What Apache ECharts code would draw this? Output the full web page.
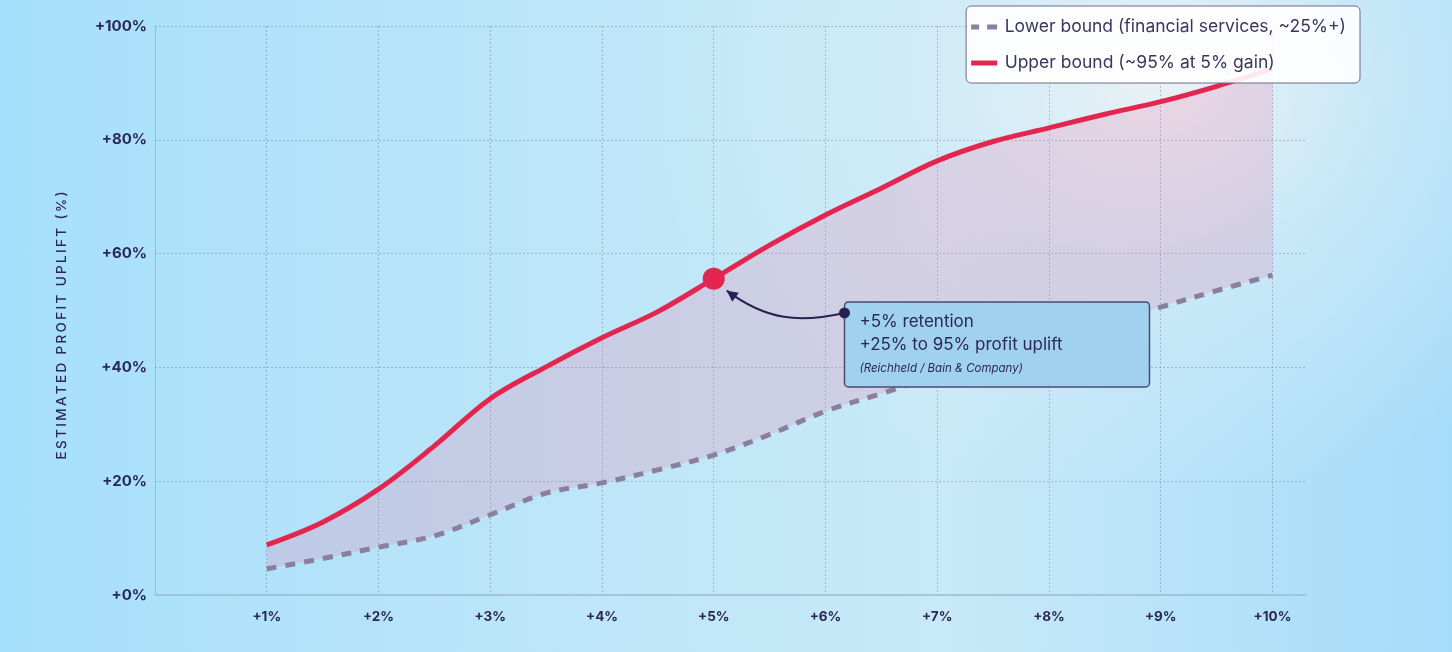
<!DOCTYPE html>
<html>
<head>
<meta charset="utf-8">
<script src="https://cdn.jsdelivr.net/npm/echarts@6/dist/echarts.min.js"></script>
<style>
  html, body { margin: 0; padding: 0; }
  body {
    width: 1452px; height: 652px; overflow: hidden;
    background:
      radial-gradient(ellipse 520px 420px at 80% 12%, rgba(236,242,245,0.95) 0%, rgba(214,237,247,0.6) 45%, rgba(190,230,250,0) 100%),
      linear-gradient(90deg, #a6dffb 0%, #bde6f8 40%, #c8e9f7 65%, #a5dcf9 100%);
  }
  #chart { width: 1452px; height: 652px; }
</style>
</head>
<body>
<div id="chart"></div>
<script>
// Retention gain (%) and the estimated profit uplift band
const retention  = [1, 1.5, 2, 2.5, 3, 3.5, 4, 4.5, 5, 5.5, 6, 6.5, 7, 7.5, 8, 8.5, 9, 9.5, 10];
const upperBound = [8.8, 12.8, 18.6, 26.2, 34.5, 40.1, 45.2, 49.8, 55.6, 61.5, 66.8, 71.5, 76.3, 79.7, 82.1, 84.5, 86.7, 89.4, 92.5];
const lowerBound = [4.6, 6.4, 8.4, 10.4, 14.1, 17.9, 19.7, 22.0, 24.6, 28.2, 32.3, 35.4, 38.7, 41.8, 44.8, 47.8, 50.6, 53.5, 56.2];
const xTicks = [1, 2, 3, 4, 5, 6, 7, 8, 9, 10];
const yTicks = [0, 20, 40, 60, 80, 100];

const lowerName = 'Lower bound (financial services, ~25%+)';
const upperName = 'Upper bound (~95% at 5% gain)';
const highlightX = 5;
const highlightY = upperBound[retention.indexOf(highlightX)];
const noteAnchor = [6.17, 51.5];
const noteLines = ['+5% retention', '+25% to 95% profit uplift', '(Reichheld / Bain & Company)'];
const xAxisTitle = 'CUSTOMER RETENTION RATE INCREASE (%)';
const yAxisTitle = 'ESTIMATED PROFIT UPLIFT (%)';

const FONT = 'Inter, "Open Sans", sans-serif';
const INK = '#2c2855';
const RED = '#e3264f';
const GREY = '#8a7f9e';

// spread capitals apart with thin spaces
const spaced = (s) => s.split('').join('\u2009');

const pairs = (ys) => retention.map((x, i) => [x, ys[i]]);
// value first so the stack runs along the y dimension
const stackPairs = (ys) => retention.map((x, i) => [ys[i], x]);
const bandHeight = upperBound.map((u, i) => u - lowerBound[i]);

const chart = echarts.init(document.getElementById('chart'), null, { renderer: 'canvas' });

chart.setOption({
  backgroundColor: 'transparent',
  animation: false,
  textStyle: { fontFamily: FONT },
  grid: { left: 155, right: 146, top: 26, bottom: 57, outerBoundsMode: 'none', containLabel: false },
  legend: {
    data: [
      { name: lowerName, icon: 'path://M0,0h8v5h-8zM16,0h10v5h-10z' },
      { name: upperName, icon: 'path://M0,0h26v5h-26z' }
    ],
    orient: 'vertical',
    right: 92,
    top: 6,
    z: 20,
    itemWidth: 31,
    itemHeight: 5,
    itemGap: 18,
    padding: [12, 14, 11, 5],
    backgroundColor: 'rgba(255,255,255,0.9)',
    borderColor: '#6f6b86',
    borderWidth: 1,
    borderRadius: 5,
    textStyle: { fontSize: 17.5, color: '#3b3660', fontFamily: FONT }
  },
  xAxis: {
    type: 'value',
    min: 0,
    max: 10.3,
    interval: 1,
    name: spaced(xAxisTitle),
    nameLocation: 'middle',
    nameGap: 58,
    nameTextStyle: { fontSize: 14, color: INK, fontWeight: 500 },
    axisLine: { show: true, lineStyle: { color: '#9bbbd0', width: 1.5 } },
    axisTick: { show: false },
    axisLabel: {
      margin: 15,
      fontSize: 13.5,
      fontWeight: 'bold',
      color: INK,
      formatter: (v) => xTicks.includes(v) ? '+' + v + '%' : ''
    },
    splitLine: {
      show: true,
      showMinLine: false,
      showMaxLine: false,
      lineStyle: { color: 'rgba(110,125,155,0.45)', type: [2, 2], width: 1 }
    }
  },
  yAxis: {
    type: 'value',
    min: 0,
    max: 100,
    interval: 20,
    name: spaced(yAxisTitle),
    nameLocation: 'middle',
    nameGap: 86,
    nameTextStyle: { fontSize: 13.5, color: INK, fontWeight: 500, padding: [0, 30, 0, 0] },
    axisLine: { show: true, lineStyle: { color: 'rgba(130,160,185,0.5)', width: 1 } },
    axisTick: { show: false },
    axisLabel: {
      margin: 8,
      fontSize: 15,
      fontWeight: 'bold',
      color: INK,
      formatter: (v) => yTicks.includes(v) ? '+' + v + '%' : ''
    },
    splitLine: {
      show: true,
      showMinLine: false,
      lineStyle: { color: 'rgba(110,125,155,0.45)', type: [2, 2], width: 1 }
    }
  },
  series: [
    {
      name: 'band-base',
      type: 'line',
      stack: 'band',
      smooth: 0.35,
      symbol: 'none',
      silent: true,
      encode: { x: 1, y: 0 },
      lineStyle: { opacity: 0 },
      data: stackPairs(lowerBound),
      z: 1
    },
    {
      name: 'band-fill',
      type: 'line',
      stack: 'band',
      smooth: 0.35,
      symbol: 'none',
      silent: true,
      encode: { x: 1, y: 0 },
      lineStyle: { opacity: 0 },
      areaStyle: { color: 'rgba(240,112,160,0.3)' },
      data: stackPairs(bandHeight),
      z: 1
    },
    {
      name: lowerName,
      type: 'line',
      smooth: 0.35,
      symbol: 'none',
      lineStyle: { color: GREY, width: 5, type: [10, 9], cap: 'butt' },
      itemStyle: { color: GREY },
      data: pairs(lowerBound),
      z: 3
    },
    {
      name: upperName,
      type: 'line',
      smooth: 0.35,
      symbol: 'none',
      lineStyle: { color: RED, width: 5 },
      itemStyle: { color: RED },
      data: pairs(upperBound),
      markPoint: {
        symbol: 'circle',
        symbolSize: 22,
        silent: true,
        itemStyle: { color: RED },
        label: { show: false },
        data: [{ coord: [highlightX, highlightY] }]
      },
      z: 4
    }
  ]
});

// Callout box with a curved arrow pointing at the highlighted point
function drawCallout() {
  const mk = chart.convertToPixel({ gridIndex: 0 }, [highlightX, highlightY]);
  const bx = chart.convertToPixel({ gridIndex: 0 }, noteAnchor);
  const boxW = 305, boxH = 85;
  const dot = [bx[0], bx[1] + 11];
  const end = [mk[0] + 13, mk[1] + 12];
  const cp1 = [dot[0] - 45, dot[1] + 10];
  const cp2 = [end[0] + 40, end[1] + 30];
  const dx = end[0] - cp2[0], dy = end[1] - cp2[1];
  const len = Math.hypot(dx, dy);
  const ux = dx / len, uy = dy / len;
  const head = 11, half = 5.5;
  const base = [end[0] - ux * head, end[1] - uy * head];
  const arrowHead = [
    [end[0], end[1]],
    [base[0] - uy * half, base[1] + ux * half],
    [base[0] + uy * half, base[1] - ux * half]
  ];

  chart.setOption({
    graphic: [
      {
        type: 'rect',
        z: 100,
        shape: { x: bx[0], y: bx[1], width: boxW, height: boxH, r: 4 },
        style: { fill: '#a0d1ef', stroke: '#4c4a72', lineWidth: 1.5 }
      },
      {
        type: 'bezierCurve',
        z: 101,
        shape: {
          x1: dot[0], y1: dot[1], x2: end[0], y2: end[1],
          cpx1: cp1[0], cpy1: cp1[1], cpx2: cp2[0], cpy2: cp2[1]
        },
        style: { stroke: '#2a2150', lineWidth: 2, fill: null }
      },
      {
        type: 'polygon',
        z: 101,
        shape: { points: arrowHead },
        style: { fill: '#2a2150' }
      },
      {
        type: 'circle',
        z: 102,
        shape: { cx: dot[0], cy: dot[1], r: 5.5 },
        style: { fill: '#2a2150' }
      },
      {
        type: 'text',
        z: 102,
        x: bx[0] + 15,
        y: bx[1] + 20,
        style: { text: noteLines[0], font: '17px ' + FONT, fill: INK, verticalAlign: 'middle' }
      },
      {
        type: 'text',
        z: 102,
        x: bx[0] + 15,
        y: bx[1] + 43,
        style: { text: noteLines[1], font: '17px ' + FONT, fill: INK, verticalAlign: 'middle' }
      },
      {
        type: 'text',
        z: 102,
        x: bx[0] + 15,
        y: bx[1] + 67,
        style: { text: noteLines[2], font: 'italic 11.5px ' + FONT, fill: INK, verticalAlign: 'middle' }
      }
    ]
  });
}
drawCallout();
</script>
</body>
</html>
